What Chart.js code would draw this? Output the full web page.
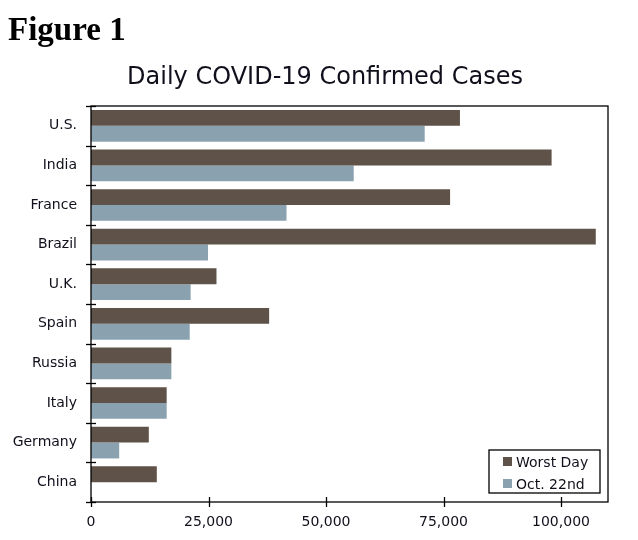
<!DOCTYPE html>
<html>
<head>
<meta charset="utf-8">
<script src="https://cdn.jsdelivr.net/npm/chart.js@4/dist/chart.umd.min.js"></script>
<style>
  html, body { margin: 0; padding: 0; background: #fff; }
  #wrap { width: 638px; height: 540px; position: relative; }
</style>
</head>
<body>
<div id="wrap"><canvas id="covidChart"></canvas></div>
<script>
const countries = ['U.S.', 'India', 'France', 'Brazil', 'U.K.', 'Spain', 'Russia', 'Italy', 'Germany', 'China'];
const worstDay = [78500, 98000, 76400, 107400, 26700, 37900, 17100, 16100, 12300, 14000];
const oct22 = [71000, 55900, 41600, 24900, 21200, 21000, 17100, 16100, 6000, 20];
const xTicks = [0, 25000, 50000, 75000, 100000];

const txt = '#10101c';
const font = 'DejaVu Sans, Verdana, sans-serif';

// frame, crossing tick marks, title and boxed legend
const decorPlugin = {
    id: 'decor',
    afterDraw(chart) {
        const ctx = chart.ctx;
        const area = chart.chartArea;
        const xs = chart.scales.x;
        const ys = chart.scales.y;
        ctx.save();
        ctx.strokeStyle = '#000';
        ctx.lineWidth = 1.3;
        ctx.strokeRect(area.left, area.top, area.right - area.left, area.bottom - area.top);

        // y ticks between categories
        for (let i = 0; i <= countries.length; i++) {
            const y = Math.round(ys.getPixelForValue(i - 0.5)) + 0.5;
            ctx.beginPath();
            ctx.moveTo(area.left - 5, y);
            ctx.lineTo(area.left + 5, y);
            ctx.stroke();
        }
        // x ticks
        xTicks.forEach(v => {
            const x = Math.round(xs.getPixelForValue(v)) + 0.5;
            ctx.beginPath();
            ctx.moveTo(x, area.bottom - 5);
            ctx.lineTo(x, area.bottom + 5);
            ctx.stroke();
        });

        // title
        ctx.fillStyle = txt;
        ctx.font = '24px ' + font;
        ctx.textAlign = 'center';
        ctx.textBaseline = 'alphabetic';
        ctx.fillText('Daily COVID-19 Confirmed Cases', 325, 84);

        ctx.fillStyle = '#000';
        ctx.font = 'bold 33px "Liberation Serif", "DejaVu Serif", serif';
        ctx.textAlign = 'left';
        ctx.fillText('Figure 1', 8, 40);

        // legend
        const lx = 489, ly = 450, lw = 111, lh = 43;
        ctx.fillStyle = '#fff';
        ctx.fillRect(lx, ly, lw, lh);
        ctx.lineWidth = 1.3;
        ctx.strokeRect(lx, ly, lw, lh);
        ctx.font = '14px ' + font;
        chart.data.datasets.forEach((ds, i) => {
            const rowY = ly + 7 + i * 22;
            ctx.fillStyle = ds.backgroundColor;
            ctx.fillRect(lx + 14, rowY, 9, 9);
            ctx.fillStyle = txt;
            ctx.fillText(ds.label, lx + 27, rowY + 10);
        });
        ctx.restore();
    }
};

new Chart(document.getElementById('covidChart'), {
    type: 'bar',
    data: {
        labels: countries,
        datasets: [{
            label: 'Worst Day',
            data: worstDay,
            backgroundColor: '#5f5248',
            categoryPercentage: 0.8,
            barPercentage: 1.0
        }, {
            label: 'Oct. 22nd',
            data: oct22,
            backgroundColor: '#8aa2b0',
            categoryPercentage: 0.8,
            barPercentage: 1.0
        }]
    },
    options: {
        indexAxis: 'y',
        responsive: true,
        maintainAspectRatio: false,
        animation: false,
        layout: {
            padding: { top: 106, right: 30, left: 0, bottom: 0 }
        },
        plugins: {
            legend: { display: false },
            title: { display: false },
            tooltip: { enabled: false }
        },
        scales: {
            x: {
                min: 0,
                max: 110000,
                grid: { display: false },
                border: { display: false },
                afterFit: s => { s.height = 38; },
                afterBuildTicks: s => { s.ticks = xTicks.map(v => ({ value: v })); },
                ticks: {
                    padding: 4,
                    color: txt,
                    font: { family: font, size: 14 },
                    maxRotation: 0,
                    autoSkip: false,
                    callback: v => v.toLocaleString('en-US')
                }
            },
            y: {
                grid: { display: false },
                border: { display: false },
                afterFit: s => { s.width = 91; },
                ticks: {
                    padding: 6,
                    color: txt,
                    font: { family: font, size: 14 }
                }
            }
        }
    },
    plugins: [decorPlugin]
});
</script>
</body>
</html>
